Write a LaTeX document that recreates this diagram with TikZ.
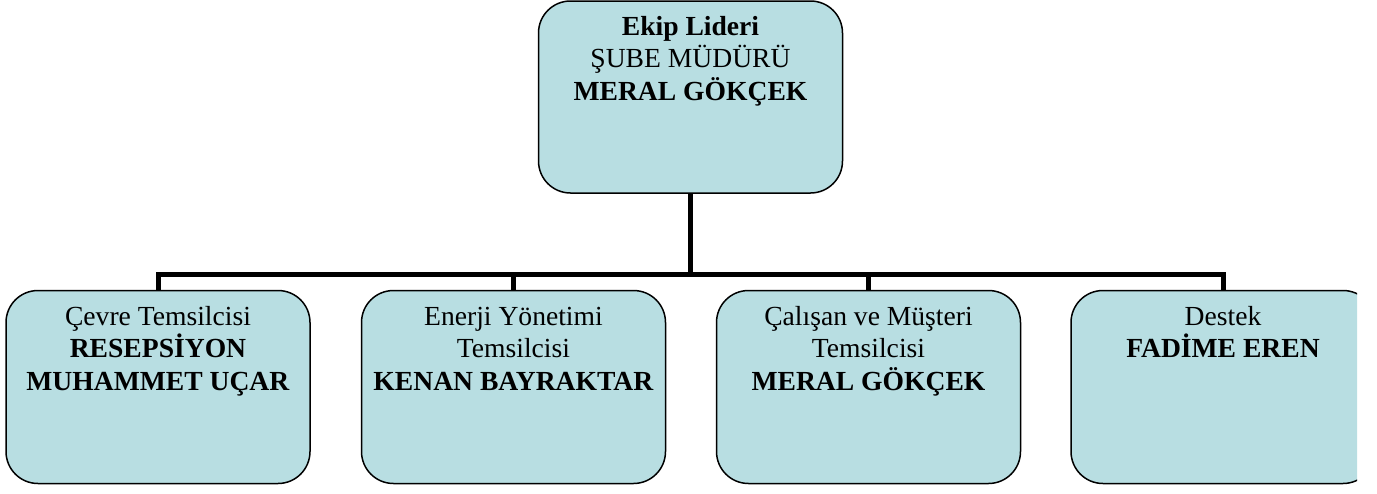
\documentclass[tikz,border=0pt]{standalone}
\usepackage{fontspec}
\setmainfont{Liberation Serif}
\definecolor{boxfill}{HTML}{B8DEE2}
\begin{document}
\begin{tikzpicture}[x=1pt,y=-1pt,
  orgbox/.style={draw=black, line width=1.5pt, fill=boxfill, rounded corners=32pt,
    minimum width=304pt, minimum height=193pt, inner sep=0pt, outer sep=0pt},
  orgtext/.style={anchor=north, inner sep=0pt, align=center,
    font=\fontsize{27.6}{32.5}\selectfont},
  link/.style={line width=5pt, draw=black, line join=miter}]
\useasboundingbox (0,0) rectangle (1377,493);
\begin{scope}
\clip (0,0) rectangle (1357,493);
% boxes
\node[orgbox, minimum height=192pt] (top) at (690.5,97) {};
\node[orgbox] (b1) at (158,387) {};
\node[orgbox] (b2) at (513.5,387) {};
\node[orgbox] (b3) at (868.5,387) {};
\node[orgbox] (b4) at (1223,387) {};
% texts
\node[orgtext] (t0) at (690.5,11) {\rule{0pt}{24pt}\textbf{Ekip Lideri}\\ŞUBE MÜDÜRÜ\\\textbf{MERAL GÖKÇEK}};
\node[orgtext] (t1) at (158,301) {\rule{0pt}{24pt}Çevre Temsilcisi\\\textbf{RESEPSİYON}\\\textbf{MUHAMMET UÇAR}};
\node[orgtext] (t2) at (513.5,301) {\rule{0pt}{24pt}Enerji Yönetimi\\Temsilcisi\\\textbf{KENAN BAYRAKTAR}};
\node[orgtext] (t3) at (868.5,301) {\rule{0pt}{24pt}Çalışan ve Müşteri\\Temsilcisi\\\textbf{MERAL GÖKÇEK}};
\node[orgtext] (t4) at (1223,301) {\rule{0pt}{24pt}Destek\\\textbf{FADİME EREN}};
% connectors
\coordinate (bar) at (0,274);
\draw[link] (top.south) -- (top.south |- bar);
\draw[link] (b1.north) -- (b1.north |- bar) -- (b4.north |- bar) -- (b4.north);
\draw[link] (b2.north) -- (b2.north |- bar);
\draw[link] (b3.north) -- (b3.north |- bar);
\end{scope}
\end{tikzpicture}
\end{document}
